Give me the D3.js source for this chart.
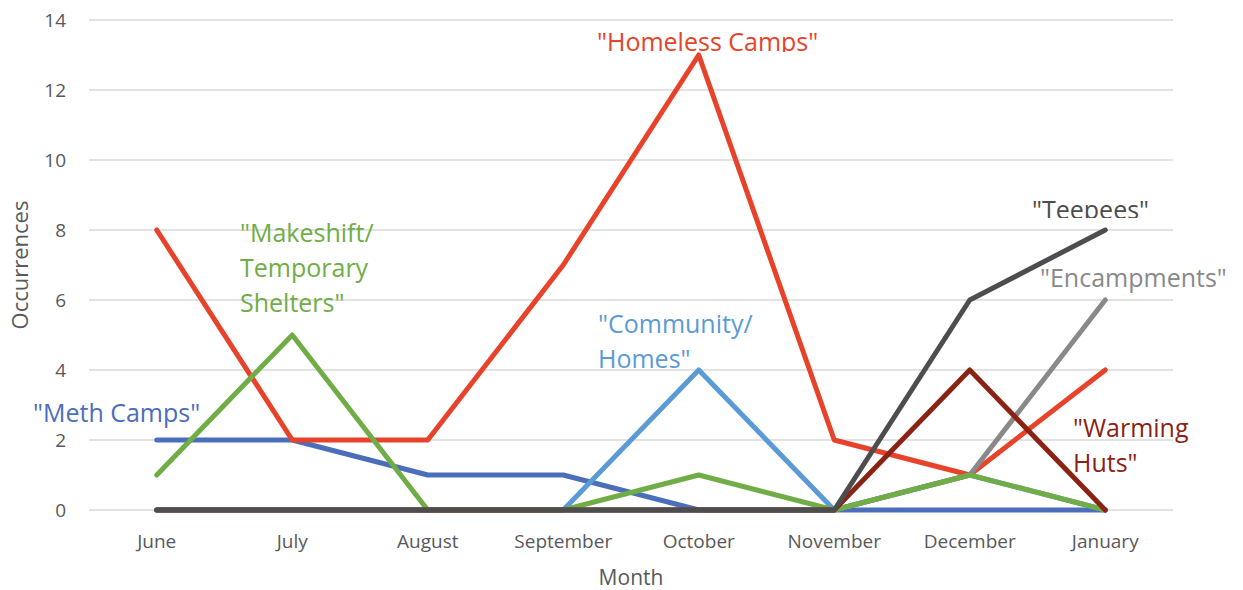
<!DOCTYPE html>
<html>
<head>
<meta charset="utf-8">
<script src="https://cdn.jsdelivr.net/npm/d3@7"></script>
<style>
  body { margin: 0; background: #fff; }
  text { font-family: "Open Sans", sans-serif; }
</style>
</head>
<body>
<svg id="chart"></svg>
<script>
// data
const months = ["June", "July", "August", "September", "October", "November", "December", "January"];
const methCamps     = [2, 2, 1, 1, 0, 0, 0, 0];
const homelessCamps = [8, 2, 2, 7, 13, 2, 1, 4];
const communityHomes = [0, 0, 0, 0, 4, 0, 1, 0];
const encampments   = [0, 0, 0, 0, 0, 0, 1, 6];
const makeshift     = [1, 5, 0, 0, 1, 0, 1, 0];
const warmingHuts   = [0, 0, 0, 0, 0, 0, 4, 0];
const teepees       = [0, 0, 0, 0, 0, 0, 6, 8];
const yTicks = [0, 2, 4, 6, 8, 10, 12, 14];

// drawn in this order, last one on top
const series = [
  { name: "Meth Camps", values: methCamps, color: "#4a6ebb",
    label: ['"Meth Camps"'], lx: 33, ly: 422 },
  { name: "Homeless Camps", values: homelessCamps, color: "#e8432a",
    label: ['"Homeless Camps"'], lx: 597, ly: 51, clip: 52 },
  { name: "Community/Homes", values: communityHomes, color: "#5b9bd5",
    label: ['"Community/', 'Homes"'], lx: 598, ly: 333 },
  { name: "Encampments", values: encampments, color: "#898989",
    label: ['"Encampments"'], lx: 1040, ly: 287 },
  { name: "Makeshift", values: makeshift, color: "#70ad47",
    label: ['"Makeshift/', 'Temporary', 'Shelters"'], lx: 240, ly: 242 },
  { name: "Warming Huts", values: warmingHuts, color: "#8b2314",
    label: ['"Warming', 'Huts"'], lx: 1073, ly: 437 },
  { name: "Teepees", values: teepees, color: "#4d4d4d",
    label: ['"Teepees"'], lx: 1032, ly: 219, clip: 218 }
];

const width = 1243, height = 590;
const margin = { top: 20, right: 70, bottom: 80, left: 89 };

const svg = d3.select("#chart").attr("width", width).attr("height", height);

const x = d3.scaleBand()
  .domain(months)
  .range([margin.left, width - margin.right]);

const y = d3.scaleLinear()
  .domain([0, 14])
  .range([height - margin.bottom, margin.top]);

// gridlines
svg.append("g")
  .selectAll("line")
  .data(yTicks)
  .enter().append("line")
    .attr("x1", margin.left)
    .attr("x2", width - margin.right)
    .attr("y1", d => y(d))
    .attr("y2", d => y(d))
    .attr("stroke", "#d9d9d9")
    .attr("stroke-width", 1.5);

// y axis labels
svg.append("g")
  .selectAll("text")
  .data(yTicks)
  .enter().append("text")
    .attr("x", 66)
    .attr("y", d => y(d))
    .attr("dy", "0.35em")
    .attr("text-anchor", "end")
    .style("font-size", "19px")
    .style("fill", "#595959")
    .text(d => d);

// x axis labels
svg.append("g")
  .selectAll("text")
  .data(months)
  .enter().append("text")
    .attr("x", d => x(d) + x.bandwidth() / 2)
    .attr("y", 548)
    .attr("text-anchor", "middle")
    .style("font-size", "19px")
    .style("fill", "#595959")
    .text(d => d);

// axis titles
svg.append("text")
  .attr("x", (margin.left + width - margin.right) / 2)
  .attr("y", 585)
  .attr("text-anchor", "middle")
  .style("font-size", "21px")
  .style("fill", "#595959")
  .text("Month");

svg.append("text")
  .attr("transform", "translate(28," + 265 + ") rotate(-90)")
  .attr("text-anchor", "middle")
  .style("font-size", "22px")
  .style("fill", "#595959")
  .text("Occurrences");

const line = d3.line()
  .x((d, i) => x(months[i]) + x.bandwidth() / 2)
  .y(d => y(d));

svg.append("g")
  .selectAll("path")
  .data(series)
  .enter().append("path")
    .attr("d", d => line(d.values))
    .attr("fill", "none")
    .attr("stroke", d => d.color)
    .attr("stroke-width", 5)
    .attr("stroke-linejoin", "round")
    .attr("stroke-linecap", "round");

// data labels (some are cut off at the bottom in the original)
const defs = svg.append("defs");
series.forEach((s, i) => {
  let g = svg.append("g");
  if (s.clip) {
    defs.append("clipPath").attr("id", "clip" + i)
      .append("rect")
      .attr("x", 0).attr("y", 0)
      .attr("width", width).attr("height", s.clip);
    g.attr("clip-path", "url(#clip" + i + ")");
  }
  g.selectAll("text")
    .data(s.label)
    .enter().append("text")
      .attr("x", s.lx)
      .attr("y", (d, j) => s.ly + j * 35)
      .style("font-size", "25px")
      .style("fill", s.color)
      .text(d => d);
});
</script>
</body>
</html>
